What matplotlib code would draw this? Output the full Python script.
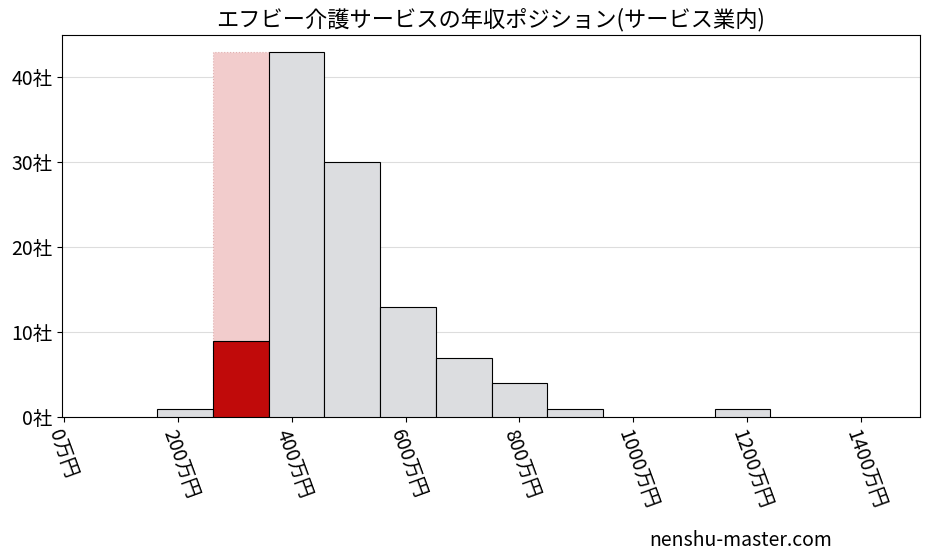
import matplotlib
matplotlib.use("Agg")
import matplotlib.pyplot as plt

plt.rcParams['font.family'] = ['Noto Sans CJK JP', 'DejaVu Sans']

bin_edges = [163, 261, 359, 457, 555, 653, 751, 849, 947, 1045, 1143, 1241]
counts = [1, 9, 43, 30, 13, 7, 4, 1, 0, 0, 1]
highlight_index = 1
highlight_bg = 43
xticks = [0, 200, 400, 600, 800, 1000, 1200, 1400]
xticklabels = [f"{v}万円" for v in xticks]
yticks = [0, 10, 20, 30, 40]
yticklabels = [f"{v}社" for v in yticks]

fig = plt.figure(figsize=(9.27, 5.57), dpi=100)
ax = fig.add_axes([62/927, 1-417/557, (920-62)/927, (417-35)/557])

w = bin_edges[1] - bin_edges[0]
ax.bar(bin_edges[highlight_index], highlight_bg, width=w, align='edge',
       color='#f2cccc', edgecolor='#e0b0b0', linestyle=':', linewidth=0.8, zorder=1)
for i, c in enumerate(counts):
    if c == 0:
        continue
    col = '#c00a0a' if i == highlight_index else '#dcdde0'
    ax.bar(bin_edges[i], c, width=bin_edges[i+1]-bin_edges[i], align='edge',
           color=col, edgecolor='black', linewidth=0.8, zorder=3)

ax.set_xlim(-4, 1504)
ax.set_ylim(0, 45)
ax.set_xticks(xticks)
ax.set_xticklabels(xticklabels, rotation=-70, ha='left', va='top', fontsize=14,
                   rotation_mode='anchor')
ax.set_yticks(yticks)
ax.set_yticklabels(yticklabels, fontsize=14)
ax.grid(axis='y', color='#dddddd', linewidth=0.8, zorder=0)
ax.set_axisbelow(True)
ax.set_title("エフビー介護サービスの年収ポジション(サービス業内)", fontsize=16)
fig.text(0.70, 0.02, "nenshu-master.com", fontsize=14)
fig.savefig("out.png", dpi=100)
